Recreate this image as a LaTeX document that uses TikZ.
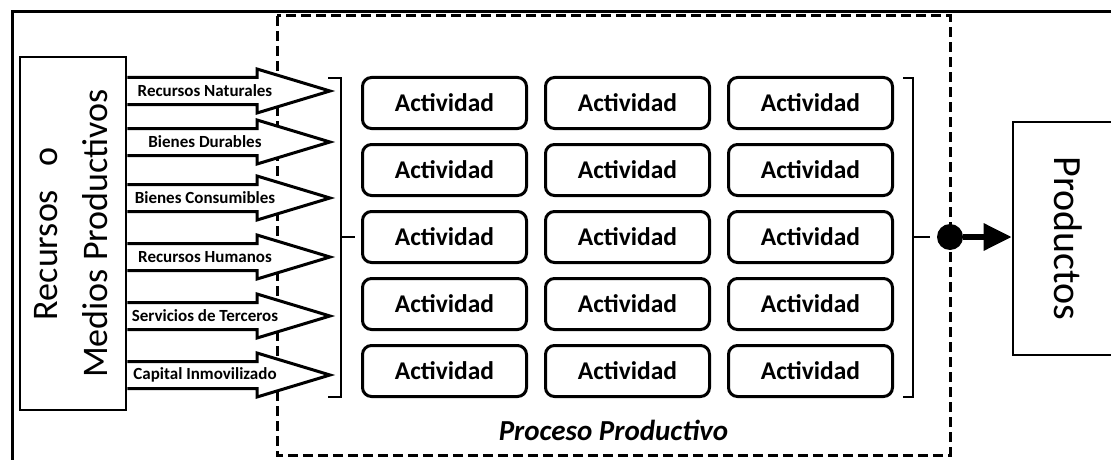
\documentclass[tikz,border=0pt]{standalone}
\usepackage{fontspec}
\setmainfont{Carlito}
\usetikzlibrary{arrows.meta}
\begin{document}
\begin{tikzpicture}[x=1pt,y=-1pt,
		act/.style={draw,line width=3pt,rounded corners=9pt,minimum width=164pt,minimum height=51pt,font=\fontsize{25.5}{30}\selectfont\bfseries},
		inarrow/.style={draw,line width=3pt,fill=white,line join=miter},
		inlabel/.style={font=\fontsize{17}{19}\selectfont\bfseries,inner sep=0pt},
		bigbox/.style={draw,line width=2.6pt,fill=white,inner sep=0pt},
		brack/.style={line width=2.4pt}]
		\useasboundingbox (0,0) rectangle (1111,460);
		\clip (0,0) rectangle (1111,460);
		\draw[line width=3pt] (12,470) -- (12,12) -- (1120,12);
		\draw[line width=3pt,dash pattern=on 10pt off 5pt] (277,16) rectangle (950,455);
		\node[bigbox,minimum width=106pt,minimum height=353pt] (res) at (73,233.5) {\rotatebox{90}{\fontsize{36}{50}\selectfont\begin{tabular}{@{}c@{}}Recursos\hspace{24pt}o\\Medios Productivos\end{tabular}}};
		\foreach \y/\txt in {91/Recursos Naturales,142/Bienes Durables,198/Bienes Consumibles,257/Recursos Humanos,316/Servicios de Terceros,375/Capital Inmovilizado}{
			\draw[inarrow] (res.east |- 0,\y-13.5) -- (257,\y-13.5) -- (257,\y-22) -- (330,\y) -- (257,\y+22) -- (257,\y+13.5) -- (res.east |- 0,\y+13.5);
			\node[inlabel] (in-\y) at (205,\y) {\txt};
		}
		\draw[brack] (328,78) -- (341,78) -- (341,397) -- (328,397);
		\draw[brack] (341,237) -- (355,237);
		\foreach \r in {1,...,5}
			\foreach \c in {1,2,3}
				\node[act] (act-\r-\c) at ({444.5+183*(\c-1)},{103+67*(\r-1)}) {Actividad};
		\draw[brack] (903,78) -- (913,78) -- (913,397) -- (903,397);
		\draw[brack] (913,237) -- (930,237);
		\node[font=\fontsize{29}{33}\selectfont\bfseries\itshape] (proc) at (613.5,430) {Proceso Productivo};
		\node[circle,fill,minimum size=26pt,inner sep=0pt] (dot) at (950,237) {};
		\node[bigbox,minimum width=110pt,minimum height=233pt] (prod) at (1068,238.5) {\rotatebox{-90}{\fontsize{40}{48}\selectfont Productos}};
		\draw[line width=6pt,-{Triangle[length=28pt,width=26pt]}] (dot) -- (prod.west |- dot);
	\end{tikzpicture}
\end{document}
